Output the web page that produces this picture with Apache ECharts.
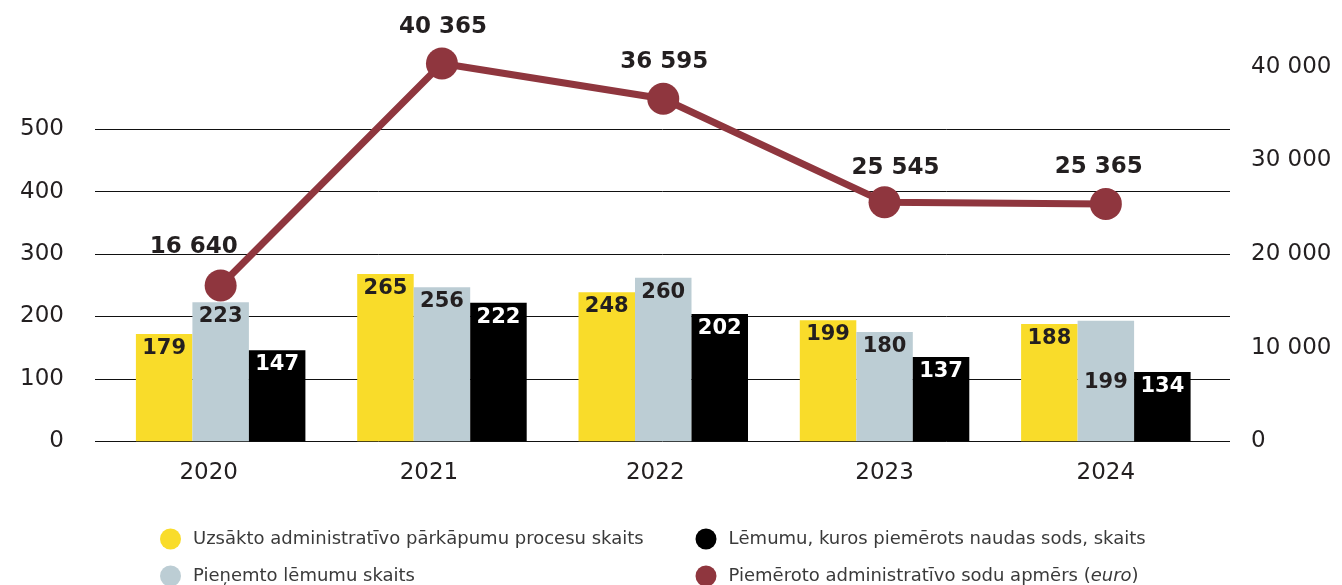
<!DOCTYPE html>
<html>
<head>
<meta charset="utf-8">
<script src="https://cdn.jsdelivr.net/npm/echarts@6/dist/echarts.min.js"></script>
<style>
html,body{margin:0;padding:0;background:#fff;}
#chart{width:1342px;height:585px;}
</style>
</head>
<body>
<div id="chart"></div>
<script>
// ---- data ----
var years = ['2020', '2021', '2022', '2023', '2024'];
var seriesNames = [
  'Uzsākto administratīvo pārkāpumu procesu skaits',
  'Pieņemto lēmumu skaits',
  'Lēmumu, kuros piemērots naudas sods, skaits',
  'Piemēroto administratīvo sodu apmērs (euro)'
];
// bar heights as drawn in the picture
var startedBars   = [172, 268, 239, 194, 188];
var decisionsBars = [223, 247, 262, 175, 193];
var finedBars     = [146, 222, 204, 135, 111];
// printed bar labels
var startedLabels   = [179, 265, 248, 199, 188];
var decisionsLabels = [223, 256, 260, 180, 199];
var finedLabels     = [147, 222, 202, 137, 134];
// fines amount (euro)
var fineAmounts = [16640, 40365, 36595, 25545, 25365];
var leftTicks = [0, 100, 200, 300, 400, 500];
var rightTicks = [0, 10000, 20000, 30000, 40000];

// ---- styling ----
var YELLOW = '#f9dc2a', GREY = '#bccdd4', BLACK = '#000000', RED = '#8f363e';
var TXT = '#231f20';
var NUM_FONT = "'DejaVu Sans', sans-serif";
var AX_FONT = "'DejaVu Sans', sans-serif";
var yearLabelShift = [12, 13, 8, 0, 0];

function fmt(v) { return String(v).replace(/\B(?=(\d{3})+(?!\d))/g, ' '); }

var GRID_TOP = 66.9, GRID_BOTTOM = 585 - 441.3;

function barSeries(name, heights, labels, color, labelColor, extra) {
  return {
    name: name, type: 'bar', xAxisIndex: 1, yAxisIndex: 2,
    barWidth: 56.5, barGap: '0%',
    itemStyle: { color: color },
    data: heights.map(function (h, i) {
      var d = { value: h };
      if (extra && extra[i]) d.label = { offset: extra[i] };
      return d;
    }),
    label: {
      show: true, position: 'insideTop', distance: 4,
      fontFamily: NUM_FONT, fontWeight: 'bold', fontSize: 21, color: labelColor,
      formatter: function (p) { return String(labels[p.dataIndex]); }
    },
    z: 2
  };
}

var lineLabelOffsets = [[-27, -2], [1, 0], [1, 0], [11, 2], [-7, 0]];

var yearRich = {};
yearLabelShift.forEach(function (s, i) {
  yearRich['y' + i] = { fontFamily: AX_FONT, fontSize: 23, color: TXT, padding: [0, 2 * s, 0, 0] };
});

var legendText = {
  fontFamily: AX_FONT, fontSize: 18, color: '#3a3a3a', padding: [0, 0, 0, 7],
  rich: { i: { fontStyle: 'italic', fontFamily: AX_FONT, fontSize: 18, color: '#3a3a3a' } }
};

var option = {
  animation: false,
  backgroundColor: '#ffffff',
  grid: [
    { left: 95, right: 112, top: GRID_TOP, bottom: GRID_BOTTOM },
    { left: 110, right: 125.5, top: GRID_TOP, bottom: GRID_BOTTOM }
  ],
  legend: [
    {
      left: 160, top: 528.5, height: 80, width: 520, orient: 'vertical', itemGap: 16,
      itemWidth: 21, itemHeight: 21, icon: 'circle', padding: 0,
      data: [seriesNames[0], seriesNames[1]],
      textStyle: legendText
    },
    {
      left: 695.5, top: 528.5, height: 80, width: 520, orient: 'vertical', itemGap: 16,
      itemWidth: 21, itemHeight: 21, icon: 'circle', padding: 0,
      data: [seriesNames[2], seriesNames[3]],
      formatter: function (n) { return n.replace('(euro)', '({i|euro})'); },
      textStyle: legendText
    }
  ],
  xAxis: [
    { gridIndex: 0, type: 'category', data: years, show: false },
    {
      gridIndex: 1, type: 'category', data: years,
      axisLine: { show: false }, axisTick: { show: false },
      axisLabel: {
        margin: 20, fontFamily: AX_FONT, fontSize: 23, color: TXT, rich: yearRich,
        formatter: function (v, i) { return '{y' + i + '|' + v + '}'; }
      }
    }
  ],
  yAxis: [
    {
      gridIndex: 0, type: 'value', position: 'left', min: 0, max: 600, interval: 100,
      axisLine: { show: false }, axisTick: { show: false },
      axisLabel: {
        margin: 31, fontFamily: AX_FONT, fontSize: 23, color: TXT, showMaxLabel: false,
        formatter: function (v) { return leftTicks.indexOf(v) >= 0 ? String(v) : ''; }
      },
      splitLine: { show: true, showMaxLine: false, lineStyle: { color: '#111', width: 1 } }
    },
    {
      gridIndex: 0, type: 'value', position: 'right', min: 0, max: 40000, interval: 10000,
      axisLine: { show: false }, axisTick: { show: false }, splitLine: { show: false },
      axisLabel: {
        margin: 21, fontFamily: AX_FONT, fontSize: 23, color: TXT,
        formatter: function (v) { return rightTicks.indexOf(v) >= 0 ? fmt(v) : ''; }
      }
    },
    { gridIndex: 1, type: 'value', min: 0, max: 600, show: false },
    { gridIndex: 1, type: 'value', min: 0, max: 40000, show: false, position: 'right' }
  ],
  series: [
    barSeries(seriesNames[0], startedBars, startedLabels, YELLOW, TXT),
    barSeries(seriesNames[1], decisionsBars, decisionsLabels, GREY, TXT, [null, null, null, null, [0, 47]]),
    barSeries(seriesNames[2], finedBars, finedLabels, BLACK, '#ffffff'),
    {
      name: seriesNames[3], type: 'line', xAxisIndex: 1, yAxisIndex: 3,
      clip: false, symbol: 'circle', symbolSize: 32,
      lineStyle: { color: RED, width: 7 },
      itemStyle: { color: RED },
      data: fineAmounts.map(function (v, i) {
        return { value: v, label: { offset: lineLabelOffsets[i] } };
      }),
      label: {
        show: true, position: 'top', distance: 9,
        fontFamily: NUM_FONT, fontWeight: 'bold', fontSize: 23, color: TXT,
        formatter: function (p) { return fmt(p.value); }
      },
      z: 5
    }
  ]
};

var chart = echarts.init(document.getElementById('chart'), null, { renderer: 'canvas' });
chart.setOption(option);
</script>
</body>
</html>
